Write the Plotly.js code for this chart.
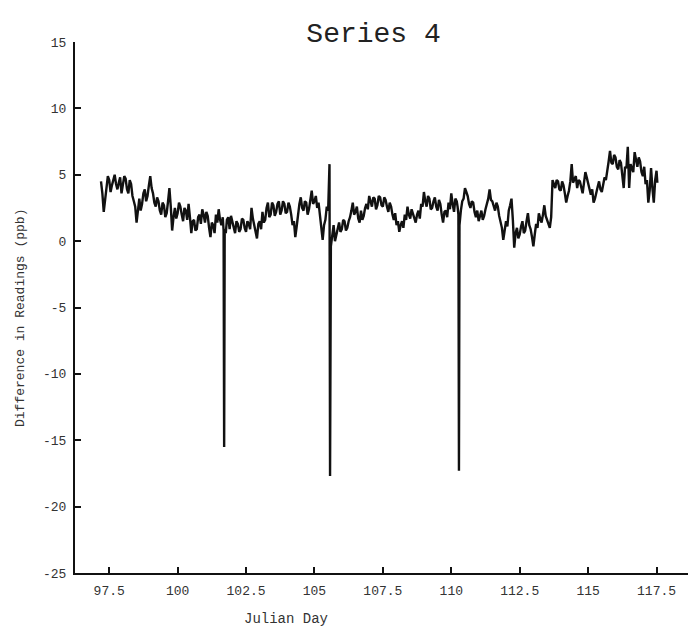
<!DOCTYPE html>
<html>
<head>
<meta charset="utf-8">
<script src="https://cdn.plot.ly/plotly-3.0.1.min.js"></script>
<style>html,body{margin:0;padding:0;background:#fff;}#chart{width:688px;height:628px;}</style>
</head>
<body>
<div id="chart"></div>
<script>
// Julian day of each reading
const days = [
  97.2, 97.25, 97.3, 97.35, 97.4, 97.45, 97.5, 97.55, 97.6, 97.65,
  97.7, 97.75, 97.8, 97.85, 97.9, 97.95, 98.0, 98.05, 98.1, 98.15,
  98.2, 98.25, 98.3, 98.35, 98.4, 98.45, 98.5, 98.55, 98.6, 98.65,
  98.7, 98.75, 98.8, 98.85, 98.9, 98.95, 99.0, 99.05, 99.1, 99.15,
  99.2, 99.25, 99.3, 99.35, 99.4, 99.45, 99.5, 99.55, 99.6, 99.65,
  99.7, 99.75, 99.8, 99.85, 99.9, 99.95, 100.0, 100.05, 100.1, 100.15,
  100.2, 100.25, 100.3, 100.35, 100.4, 100.45, 100.5, 100.55, 100.6, 100.65,
  100.7, 100.75, 100.8, 100.85, 100.9, 100.95, 101.0, 101.05, 101.1, 101.15,
  101.2, 101.25, 101.3, 101.35, 101.4, 101.45, 101.5, 101.55, 101.6, 101.65,
  101.68, 101.70, 101.72, 101.76, 101.8, 101.85, 101.9, 101.95, 102.0, 102.05,
  102.1, 102.15, 102.2, 102.25, 102.3, 102.35, 102.4, 102.45, 102.5, 102.55,
  102.6, 102.65, 102.7, 102.75, 102.8, 102.85, 102.9, 102.95, 103.0, 103.05,
  103.1, 103.15, 103.2, 103.25, 103.3, 103.35, 103.4, 103.45, 103.5, 103.55,
  103.6, 103.65, 103.7, 103.75, 103.8, 103.85, 103.9, 103.95, 104.0, 104.05,
  104.1, 104.15, 104.2, 104.25, 104.3, 104.35, 104.4, 104.45, 104.5, 104.55,
  104.6, 104.65, 104.7, 104.75, 104.8, 104.85, 104.9, 104.95, 105.0, 105.05,
  105.1, 105.15, 105.2, 105.25, 105.3, 105.35, 105.4, 105.45, 105.5, 105.55,
  105.57, 105.6, 105.65, 105.7, 105.75, 105.8, 105.85, 105.9, 105.95, 106.0,
  106.05, 106.1, 106.15, 106.2, 106.25, 106.3, 106.35, 106.4, 106.45, 106.5,
  106.55, 106.6, 106.65, 106.7, 106.75, 106.8, 106.85, 106.9, 106.95, 107.0,
  107.05, 107.1, 107.15, 107.2, 107.25, 107.3, 107.35, 107.4, 107.45, 107.5,
  107.55, 107.6, 107.65, 107.7, 107.75, 107.8, 107.85, 107.9, 107.95, 108.0,
  108.05, 108.1, 108.15, 108.2, 108.25, 108.3, 108.35, 108.4, 108.45, 108.5,
  108.55, 108.6, 108.65, 108.7, 108.75, 108.8, 108.85, 108.9, 108.95, 109.0,
  109.05, 109.1, 109.15, 109.2, 109.25, 109.3, 109.35, 109.4, 109.45, 109.5,
  109.55, 109.6, 109.65, 109.7, 109.75, 109.8, 109.85, 109.9, 109.95, 110.0,
  110.05, 110.1, 110.15, 110.2, 110.23, 110.26, 110.28, 110.3, 110.35, 110.4,
  110.45, 110.5, 110.55, 110.6, 110.65, 110.7, 110.75, 110.8, 110.85, 110.9,
  110.95, 111.0, 111.05, 111.1, 111.15, 111.2, 111.25, 111.3, 111.35, 111.4,
  111.45, 111.5, 111.55, 111.6, 111.65, 111.7, 111.75, 111.8, 111.85, 111.9,
  111.95, 112.0, 112.05, 112.1, 112.15, 112.2, 112.25, 112.3, 112.35, 112.4,
  112.45, 112.5, 112.55, 112.6, 112.65, 112.7, 112.75, 112.8, 112.85, 112.9,
  112.95, 113.0, 113.05, 113.1, 113.15, 113.2, 113.25, 113.3, 113.35, 113.4,
  113.45, 113.5, 113.55, 113.6, 113.65, 113.7, 113.75, 113.8, 113.85, 113.9,
  113.95, 114.0, 114.05, 114.1, 114.15, 114.2, 114.25, 114.3, 114.35, 114.4,
  114.45, 114.5, 114.55, 114.6, 114.65, 114.7, 114.75, 114.8, 114.85, 114.9,
  114.95, 115.0, 115.05, 115.1, 115.15, 115.2, 115.25, 115.3, 115.35, 115.4,
  115.45, 115.5, 115.55, 115.6, 115.65, 115.7, 115.75, 115.8, 115.85, 115.9,
  115.95, 116.0, 116.05, 116.1, 116.15, 116.2, 116.25, 116.3, 116.35, 116.4,
  116.45, 116.5, 116.55, 116.6, 116.65, 116.7, 116.75, 116.8, 116.85, 116.9,
  116.95, 117.0, 117.05, 117.1, 117.15, 117.2, 117.25, 117.3, 117.35, 117.4,
  117.45, 117.5, 117.53
];

// Difference in readings (ppb)
const diffs = [
  4.5, 3.6, 2.2, 3.3, 3.8, 4.9, 4.6, 3.7, 4.2, 4.6,
  5.0, 4.3, 3.9, 4.4, 4.8, 3.6, 4.2, 4.9, 4.7, 3.9,
  3.6, 4.6, 4.3, 3.4, 3.0, 2.6, 1.4, 2.5, 3.2, 2.3,
  2.8, 3.6, 3.9, 3.0, 3.4, 4.2, 4.9, 4.0, 3.6, 2.9,
  2.6, 3.3, 3.0, 2.3, 2.0, 2.9, 2.7, 1.8, 2.1, 3.0,
  4.0, 2.6, 0.8, 1.8, 2.5, 1.7, 2.1, 2.9, 2.6, 2.0,
  1.5, 2.5, 2.3, 1.6, 2.8, 1.8, 0.6, 1.5, 1.6, 0.8,
  0.9, 1.8, 2.0, 1.3, 2.4, 2.0, 1.4, 2.2, 1.9, 1.0,
  0.3, 1.4, 1.2, 0.6, 2.0, 1.4, 2.4, 1.6, 1.2, 1.8,
  0.8, -15.5, 0.9, 0.6, 1.6, 1.8, 0.9, 1.9, 1.5, 0.9,
  0.6, 1.5, 1.3, 0.7, 0.9, 1.7, 1.6, 1.0, 0.7, 1.5,
  1.3, 0.9, 2.5, 1.7, 1.2, 0.6, 0.2, 1.3, 1.5, 0.9,
  2.2, 1.4, 1.6, 2.5, 2.9, 1.8, 2.0, 2.9, 2.7, 1.9,
  2.2, 2.8, 3.0, 2.0, 2.3, 3.0, 2.8, 2.1, 2.2, 2.9,
  2.6, 2.0, 1.2, 1.5, 0.3, 1.1, 2.0, 2.8, 3.3, 2.5,
  2.3, 3.0, 2.9, 2.0, 2.4, 3.1, 3.8, 2.8, 3.0, 3.4,
  2.5, 2.9, 1.8, 1.0, 0.1, 1.2, 1.6, 2.6, 2.3, 5.8,
  -17.7, -0.4, 0.5, 1.2, 0.0, 0.4, 1.0, 1.4, 0.7, 0.9,
  1.6, 1.5, 0.8, 1.0, 1.5, 1.8, 2.3, 2.9, 2.0, 2.2,
  2.6, 1.7, 1.4, 2.3, 1.6, 1.9, 2.5, 2.8, 2.4, 3.4,
  3.0, 2.6, 3.3, 3.2, 2.4, 2.7, 3.4, 3.3, 2.7, 2.6,
  3.3, 3.1, 2.6, 2.2, 2.9, 2.6, 2.0, 1.6, 2.1, 1.2,
  1.5, 0.7, 1.2, 1.5, 1.0, 2.0, 1.6, 2.6, 2.0, 1.7,
  2.4, 2.1, 1.8, 1.4, 2.0, 2.3, 1.7, 2.8, 2.6, 3.7,
  3.0, 2.6, 3.4, 3.2, 2.4, 2.5, 3.0, 3.3, 2.6, 2.3,
  3.1, 2.8, 2.0, 1.4, 2.2, 2.3, 1.8, 2.9, 2.4, 3.6,
  2.8, 2.2, 3.2, 3.0, 2.6, 2.0, -17.3, 1.2, 2.3, 3.0,
  3.2, 4.0, 3.7, 3.4, 2.8, 2.5, 3.0, 2.9, 2.2, 1.8,
  2.3, 1.5, 1.9, 2.3, 1.6, 1.9, 2.4, 2.8, 3.2, 3.9,
  3.1, 3.0, 2.6, 2.3, 2.9, 2.6, 1.9, 1.4, 1.0, 0.1,
  0.9, 1.5, 1.1, 2.3, 2.7, 3.2, 1.6, -0.5, 0.6, 1.0,
  0.2, 0.5, 1.1, 1.5, 0.6, 0.8, 1.5, 2.1, 1.2, 0.9,
  0.3, -0.4, 0.5, 1.3, 1.0, 2.1, 1.7, 1.4, 2.0, 2.7,
  1.9, 1.6, 1.3, 1.0, 1.8, 4.6, 4.3, 4.0, 4.6, 4.5,
  3.9, 3.8, 4.5, 4.2, 3.6, 2.9, 3.4, 3.8, 4.5, 5.8,
  4.4, 4.6, 4.9, 4.0, 4.6, 4.5, 4.0, 3.6, 4.4, 5.2,
  4.8, 4.4, 4.0, 3.5, 3.9, 2.9, 3.2, 3.8, 4.1, 4.5,
  3.9, 3.7, 4.4, 4.8, 4.6, 5.5, 6.0, 6.8, 5.9, 5.8,
  6.5, 6.3, 5.6, 5.4, 6.1, 5.9, 5.0, 4.0, 5.6, 5.5,
  7.1, 4.0, 5.8, 5.5, 5.2, 6.7, 6.2, 5.6, 6.3, 6.0,
  5.2, 4.9, 5.6, 4.3, 4.6, 2.9, 3.8, 5.5, 4.0, 2.9,
  4.6, 5.3, 4.4
];

const xTicks = [97.5, 100, 102.5, 105, 107.5, 110, 112.5, 115, 117.5];
const xTickLabels = ["97.5", "100", "102.5", "105", "107.5", "110", "112.5", "115", "117.5"];
const yTicks = [15, 10, 5, 0, -5, -10, -15, -20, -25];
const yTickLabels = ["15", "10", "5", "0", "-5", "-10", "-15", "-20", "-25"];

const mono = "Liberation Mono, DejaVu Sans Mono, monospace";

const trace = {
  x: days, y: diffs, type: "scatter", mode: "lines",
  line: {color: "#111", width: 2.4}, hoverinfo: "skip"
};

const layout = {
  width: 688, height: 628,
  margin: {l: 75, r: 0, t: 42, b: 55},
  paper_bgcolor: "#fff", plot_bgcolor: "#fff",
  showlegend: false,
  title: {text: "Series 4", font: {family: mono, size: 28, color: "#222"},
          x: 0.543, xref: "container", xanchor: "center",
          y: 0.949, yref: "container", yanchor: "middle"},
  xaxis: {range: [96.25, 118.65], showgrid: false, zeroline: false,
          showline: true, linecolor: "#111", linewidth: 2,
          ticks: "inside", ticklen: 6, tickwidth: 2, tickcolor: "#111",
          tickvals: xTicks, ticktext: xTickLabels, ticklabelstandoff: 4,
          tickfont: {family: mono, size: 13, color: "#333"}},
  yaxis: {range: [-25, 15], showgrid: false, zeroline: false,
          showline: true, linecolor: "#111", linewidth: 2,
          ticks: "inside", ticklen: 6, tickwidth: 2, tickcolor: "#111",
          tickvals: yTicks, ticktext: yTickLabels, ticklabelstandoff: 4,
          tickfont: {family: mono, size: 13, color: "#333"}},
  annotations: [
    {text: "Julian Day", xref: "paper", yref: "paper",
     x: (286 - 75) / 613, y: -(619 - 573) / 531, xanchor: "center", yanchor: "middle",
     showarrow: false, font: {family: mono, size: 14, color: "#333"}},
    {text: "Difference in Readings (ppb)", xref: "paper", yref: "paper",
     x: -(75 - 20) / 613, y: (573 - 318) / 531, xanchor: "center", yanchor: "middle",
     textangle: -90, showarrow: false, font: {family: mono, size: 13, color: "#333"}}
  ]
};

Plotly.newPlot("chart", [trace], layout, {staticPlot: true, displayModeBar: false});
</script>
</body>
</html>
